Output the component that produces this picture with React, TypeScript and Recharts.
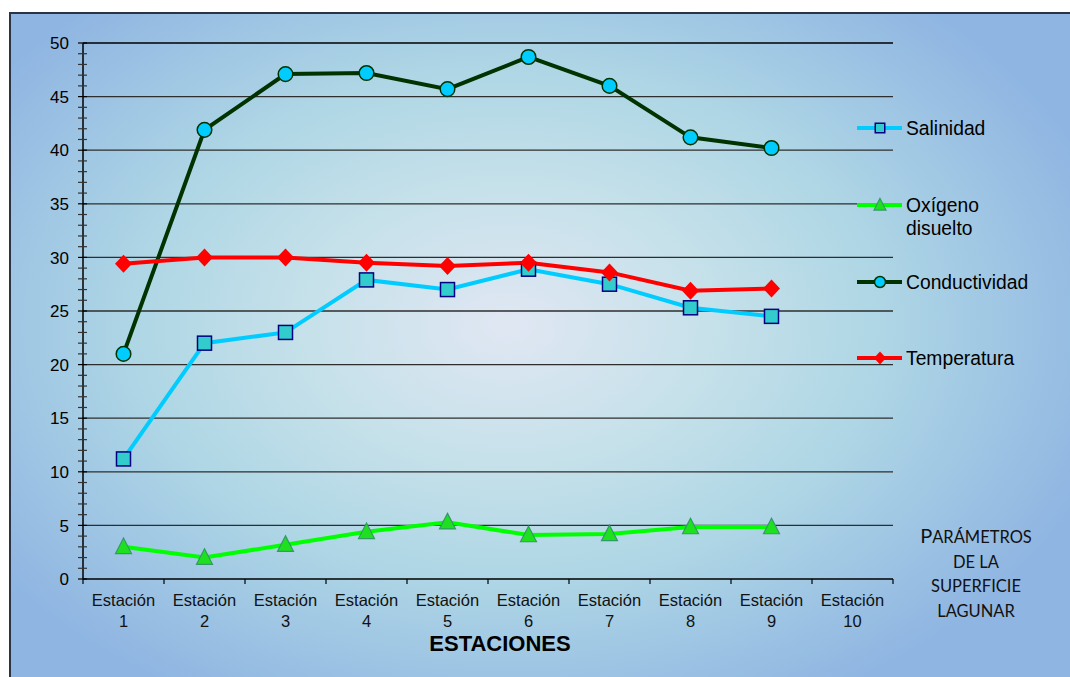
import React from "react"
import { LineChart, Line, XAxis, YAxis, ReferenceLine } from "recharts"

const categories = [
  "Estación 1", "Estación 2", "Estación 3", "Estación 4", "Estación 5",
  "Estación 6", "Estación 7", "Estación 8", "Estación 9", "Estación 10",
]
const salinidad = [11.2, 22.0, 23.0, 27.9, 27.0, 28.9, 27.5, 25.3, 24.5]
const oxigeno = [3.0, 2.0, 3.2, 4.4, 5.3, 4.1, 4.2, 4.85, 4.85]
const conductividad = [21.0, 41.9, 47.1, 47.2, 45.7, 48.7, 46.0, 41.2, 40.2]
const temperatura = [29.4, 30.0, 30.0, 29.5, 29.2, 29.5, 28.6, 26.9, 27.1]

const yTicks = Array.from({ length: 51 }, (_, i) => i)
const gridValues = [5, 10, 15, 20, 25, 30, 35, 40, 45, 50]
const legendNames = ["Salinidad", "Oxígeno disuelto", "Conductividad", "Temperatura"]
const noteLines = ["Parámetros", "de la", "superficie", "lagunar"]

const data = categories.map((name, i) => ({
  name,
  sal: salinidad[i] ?? null,
  oxi: oxigeno[i] ?? null,
  con: conductividad[i] ?? null,
  tem: temperatura[i] ?? null,
}))

const FONT = "'Liberation Sans', Arial, sans-serif"
const BAND = 81

const square = (cx: number, cy: number, s: number, key?: string) => (
  <rect key={key} x={cx - s / 2} y={cy - s / 2} width={s} height={s} fill="#33cccc" stroke="#000080" strokeWidth={1.5} />
)
const triangle = (cx: number, cy: number, s: number, key?: string) => (
  <polygon key={key} points={`${cx},${cy - s * 0.55} ${cx + s / 2},${cy + s * 0.42} ${cx - s / 2},${cy + s * 0.42}`} fill="#1fe01f" stroke="#339966" strokeWidth={1.2} />
)
const circle = (cx: number, cy: number, r: number, key?: string) => (
  <circle key={key} cx={cx} cy={cy} r={r} fill="#00ccff" stroke="#003300" strokeWidth={1.5} />
)
const diamond = (cx: number, cy: number, w: number, h: number, key?: string) => (
  <polygon key={key} points={`${cx},${cy - h / 2} ${cx + w / 2},${cy} ${cx},${cy + h / 2} ${cx - w / 2},${cy}`} fill="#ff0000" />
)

const makeDot = (kind: string) => (p: any) => {
  const k = `${kind}-${p.index}`
  if (p.cy == null || p.value == null) return <g key={k} />
  if (kind === "sal") return square(p.cx, p.cy, 14, k)
  if (kind === "oxi") return triangle(p.cx, p.cy, 16, k)
  if (kind === "con") return circle(p.cx, p.cy, 7.3, k)
  return diamond(p.cx, p.cy, 17, 18, k)
}

const YTick = (props: any) => {
  const { x, y, payload } = props
  const major = payload.value % 5 === 0
  return (
    <g>
      <line x1={x - 5} x2={x + 4} y1={y} y2={y} stroke={major ? "#000" : "#333"} strokeWidth={1.2} />
      {major && (
        <text x={x - 14} y={y} dy="0.36em" textAnchor="end" fontSize={17} fontFamily={FONT} fill="#000">
          {payload.value}
        </text>
      )}
    </g>
  )
}

const XTick = (props: any) => {
  const { x, y, payload, index } = props
  const [word, num] = String(payload.value).split(" ")
  return (
    <g>
      <line x1={x - BAND / 2} x2={x - BAND / 2} y1={y} y2={y + 5} stroke="#000" strokeWidth={1.2} />
      {index === categories.length - 1 && (
        <line x1={x + BAND / 2} x2={x + BAND / 2} y1={y} y2={y + 5} stroke="#000" strokeWidth={1.2} />
      )}
      <text x={x} y={y + 27} textAnchor="middle" fontSize={16.5} fontFamily={FONT} fill="#111">{word}</text>
      <text x={x} y={y + 48} textAnchor="middle" fontSize={16.5} fontFamily={FONT} fill="#111">{num}</text>
    </g>
  )
}

export default function App() {
  const legendRows = [128, 205, 282, 358]
  return (
    <div style={{ position: "fixed", left: 0, top: 0, width: 1070, height: 677, overflow: "hidden", background: "#fff" }}>
      <div
        style={{
          position: "absolute",
          left: 9,
          top: 12,
          width: 1080,
          height: 690,
          border: "2px solid #2b3442",
          background:
            "radial-gradient(ellipse 58% 62% at 46% 45%, #e0e7f3 0%, #c6e1ea 32%, #aed6e5 60%, #8fb5e2 100%)",
        }}
      />
      <div style={{ position: "absolute", left: 0, top: 0 }}>
        <LineChart width={1070} height={677} data={data} margin={{ top: 43, right: 177, left: 23, bottom: 38 }}>
          <XAxis
            dataKey="name"
            scale="band"
            interval={0}
            height={60}
            tickSize={0}
            tickMargin={0}
            tick={<XTick />}
            axisLine={{ stroke: "#000", strokeWidth: 1.5 }}
            label={{ value: "ESTACIONES", position: "bottom", offset: -4, dx: 12, fontSize: 22, fontWeight: "bold", fontFamily: FONT, fill: "#000" }}
          />
          <YAxis
            domain={[0, 50]}
            ticks={yTicks}
            interval={0}
            width={60}
            tickSize={0}
            tickMargin={0}
            tick={<YTick />}
            axisLine={{ stroke: "#000", strokeWidth: 1.5 }}
          />
          {gridValues.map((v) => (
            <ReferenceLine key={v} y={v} stroke={v === 50 ? "#000" : "#2e2e2e"} strokeWidth={1.3} />
          ))}
          <Line dataKey="sal" stroke="#00ccff" strokeWidth={4} dot={makeDot("sal")} activeDot={false} isAnimationActive={false} />
          <Line dataKey="oxi" stroke="#00ff00" strokeWidth={4} dot={makeDot("oxi")} activeDot={false} isAnimationActive={false} />
          <Line dataKey="con" stroke="#003300" strokeWidth={4} dot={makeDot("con")} activeDot={false} isAnimationActive={false} />
          <Line dataKey="tem" stroke="#ff0000" strokeWidth={4} dot={makeDot("tem")} activeDot={false} isAnimationActive={false} />
        </LineChart>
      </div>
      <svg width={1070} height={677} style={{ position: "absolute", left: 0, top: 0, pointerEvents: "none" }}>
        {legendNames.map((name, i) => {
          const y = legendRows[i]
          const colors = ["#00ccff", "#00ff00", "#003300", "#ff0000"]
          const words = name === "Oxígeno disuelto" ? ["Oxígeno", "disuelto"] : [name]
          return (
            <g key={name}>
              <line x1={857} x2={902} y1={y} y2={y} stroke={colors[i]} strokeWidth={4} />
              {i === 0 && square(880, y, 9.5)}
              {i === 1 && triangle(880, y, 12)}
              {i === 2 && circle(880, y, 5.5)}
              {i === 3 && diamond(880, y, 12, 13)}
              {words.map((w, j) => (
                <text key={w} x={906} y={y + j * 23} dy="0.36em" fontSize={19.3} fontFamily={FONT} fill="#000">
                  {w}
                </text>
              ))}
            </g>
          )
        })}
        {noteLines.map((line, i) => (
          <text key={line} x={976} y={543 + i * 24.6} textAnchor="middle" fontFamily="Lato, 'Open Sans', sans-serif" fill="#111">
            {i === 0 ? (
              <>
                <tspan fontSize={20}>{line[0].toUpperCase()}</tspan>
                <tspan fontSize={16.5}>{line.slice(1).toUpperCase()}</tspan>
              </>
            ) : (
              <tspan fontSize={16.5}>{line.toUpperCase()}</tspan>
            )}
          </text>
        ))}
      </svg>
    </div>
  )
}
